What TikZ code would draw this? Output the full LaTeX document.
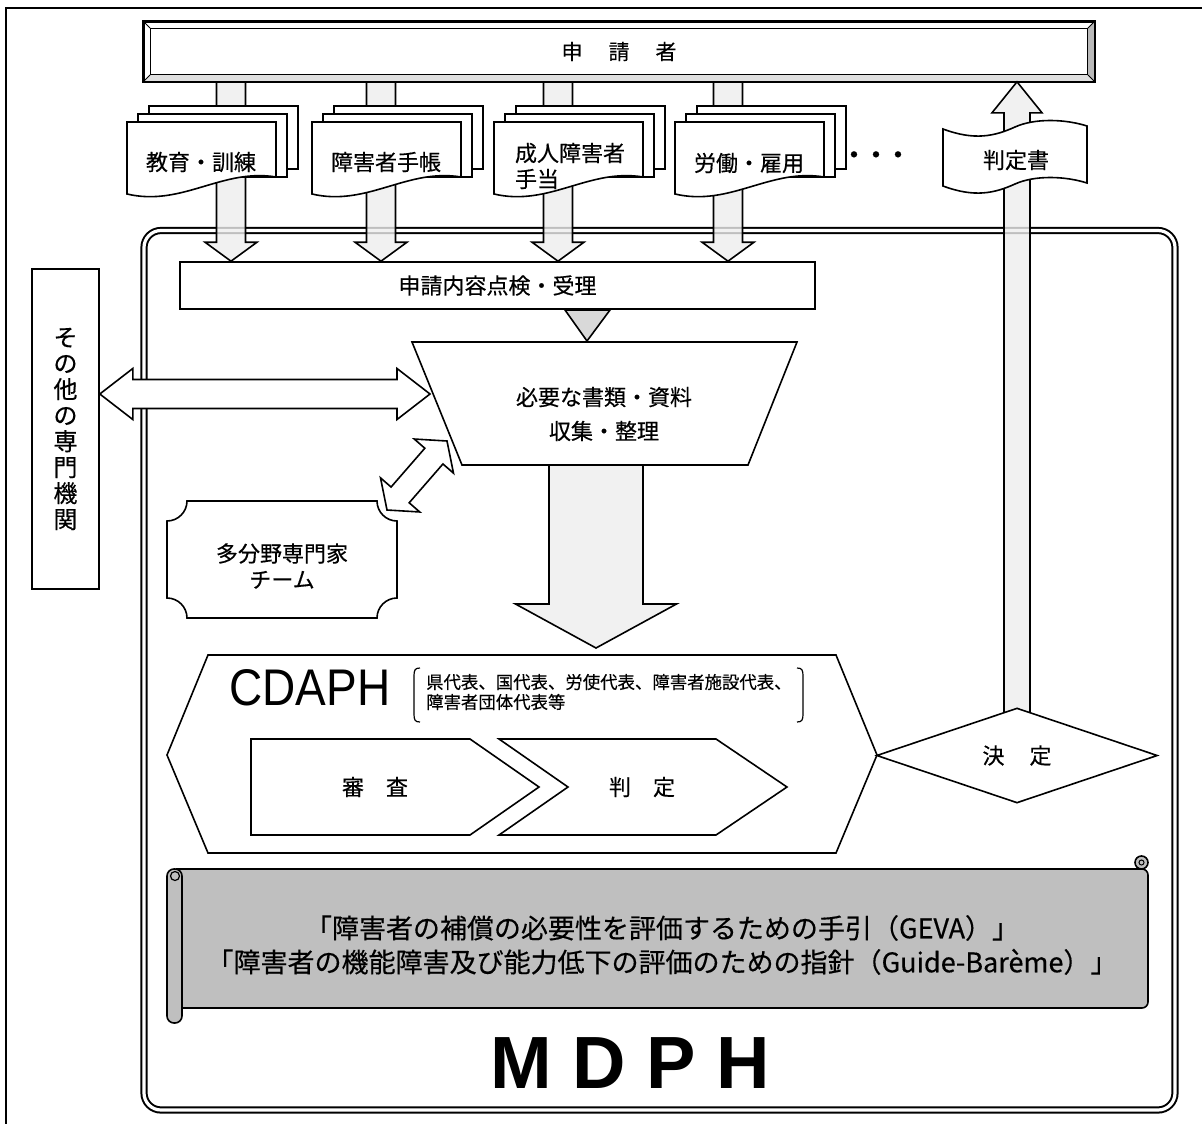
\documentclass[tikz,border=0pt]{standalone}
\usepackage{fontspec}
\setmainfont{Liberation Sans}
\newfontfamily\jp[FakeBold=0.4]{Noto Sans CJK JP}
\usetikzlibrary{calc}
\usetikzlibrary{shapes.geometric}

\tikzset{
  outline/.style={draw=black, line width=1.6pt, line join=miter},
  fat/.style={draw=black, line width=1.6pt, fill=gray!13, fill opacity=0.8},
  jptext/.style={font=\jp\fontsize{22}{26}\selectfont, align=center, inner sep=0pt},
}

\newcommand{\fatarrow}[6][]{%
  \coordinate (fa-b) at ($(#3)!#6!(#2)$);
  \draw[fat,#1] ($(#2)!#4!90:(#3)$) -- ($(fa-b)!#4!90:(#3)$) -- ($(fa-b)!#5!90:(#3)$) -- (#3)
    -- ($(fa-b)!#5!-90:(#3)$) -- ($(fa-b)!#4!-90:(#3)$) -- ($(#2)!#4!-90:(#3)$) -- cycle;
}
\newcommand{\fatdarrow}[6][]{%
  \coordinate (fa-a) at ($(#2)!#6!(#3)$);
  \coordinate (fa-b) at ($(#3)!#6!(#2)$);
  \draw[fat,#1] (#2) -- ($(fa-a)!#5!90:(#3)$) -- ($(fa-a)!#4!90:(#3)$) -- ($(fa-b)!#4!90:(#3)$)
    -- ($(fa-b)!#5!90:(#3)$) -- (#3) -- ($(fa-b)!#5!-90:(#3)$) -- ($(fa-b)!#4!-90:(#3)$)
    -- ($(fa-a)!#4!-90:(#3)$) -- ($(fa-a)!#5!-90:(#3)$) -- cycle;
}
\newcommand{\docsheets}[1]{%
  \draw[outline, fill=white] (#1+22,106) rectangle (#1+171,169);
  \draw[outline, fill=white] (#1+11,114) rectangle (#1+160,177);
  \draw[outline, fill=white] (#1,122) -- (#1+149,122) -- (#1+149,177)
    .. controls (#1+95,168) and (#1+55,207) .. (#1,194) -- cycle;
}

\begin{document}
\begin{tikzpicture}[x=1pt,y=-1pt]
\useasboundingbox (0,0) rectangle (1202,1124);
\draw[line width=1.8pt] (6,1140) -- (6,8) -- (1220,8);
\draw[line width=2pt, double, double distance=3.2pt, rounded corners=17pt] (144,230.5) rectangle (1175,1110);

\node[draw, outline, fill=white, minimum width=635pt, minimum height=47pt, jptext] (check) at (497.5,285.5) {申請内容点検・受理};

\foreach \x [count=\i] in {231,381,558,728} {
  \coordinate (in\i) at (\x,81);
  \coordinate (out\i) at (in\i |- check.north);
  \fatarrow{in\i}{out\i}{14.5pt}{26pt}{19pt}
}
\foreach \x in {127,312,494,675} {\docsheets{\x}}

\node[jptext] (edu) at (201,162) {教育・訓練};
\node[jptext] (handbook) at (386,162) {障害者手帳};
\node[jptext, align=left] (allowance) at (570,166) {成人障害者\\手当};
\node[jptext] (labour) at (749,163) {労働・雇用};
\node[jptext, font=\jp\bfseries\fontsize{22}{26}\selectfont] (more) at (876,157) {・・・};

\node[draw, outline, fill=white, minimum width=950pt, minimum height=59pt, inner sep=0pt,
  font=\jp\fontsize{21}{24}\selectfont] (applicant) at (619,51.5) {申\hspace{26pt}請\hspace{26pt}者};
\fill[gray!25] (applicant.south west) -- (applicant.south east) -- ++(-7,-7) -- ($(applicant.south west)+(7,-7)$) -- cycle;
\fill[gray!55] (applicant.south east) -- (applicant.north east) -- ++(-7,7) -- ($(applicant.south east)+(-7,-7)$) -- cycle;
\draw[outline] (applicant.north west) rectangle (applicant.south east);
\draw[outline, line width=1.2pt] ($(applicant.north west)+(7,7)$) rectangle ($(applicant.south east)+(-7,-7)$);
\draw[line width=0.8pt] (applicant.north west) -- ++(7,7) (applicant.south west) -- ++(7,-7)
  (applicant.north east) -- ++(-7,7) (applicant.south east) -- ++(-7,-7);

\coordinate (ret-s) at (1017,716);
\coordinate (ret-e) at (applicant.south -| ret-s);
\fatarrow{ret-s}{ret-e}{13pt}{25pt}{31pt}
\draw[outline, fill=white] (943,129) .. controls (975,141) and (995,136) .. (1015,127)
  .. controls (1035,118) and (1065,119) .. (1087,126) -- (1087,183)
  .. controls (1065,176) and (1035,175) .. (1015,184)
  .. controls (995,193) and (975,198) .. (943,186) -- cycle;
\node[jptext] (verdict) at (1016,160) {判定書};

\node[draw, outline, minimum width=67pt, minimum height=320pt, inner sep=0pt,
  font=\jp\fontsize{24}{26}\selectfont, align=center] (other) at (65.5,429) {そ\\の\\他\\の\\専\\門\\機\\関};

\draw[outline, fill=gray!30] (565,310) -- (610,310) -- (587,341) -- cycle;
\draw[outline, fill=white] (412,342) -- (797,342) -- (748,465) -- (462,465) -- cycle;
\node[jptext, font=\jp\fontsize{22}{34}\selectfont] (collect) at (604,414) {必要な書類・資料\\収集・整理};

\coordinate (link-l) at (other.east |- 0,394);
\coordinate (link-r) at (430,394);
\fatdarrow[fill=white, fill opacity=1]{link-l}{link-r}{14.5pt}{25.5pt}{33pt}

\draw[outline, fill=white] (187,501) -- (377,501) .. controls (377,512) and (386,521) .. (397,521)
  -- (397,598) .. controls (386,598) and (377,607) .. (377,618) -- (187,618)
  .. controls (187,607) and (178,598) .. (167,598) -- (167,521)
  .. controls (178,521) and (187,512) .. (187,501) -- cycle;
\node[jptext] (team) at (282,566) {多分野専門家\\チーム};
\coordinate (team-c) at (387,510);
\coordinate (collect-c) at (447,441);
\fatdarrow[fill=white, fill opacity=1]{team-c}{collect-c}{12pt}{26pt}{20pt}

\coordinate (big-s) at (596,465);
\coordinate (big-e) at (596,648);
\fatarrow{big-s}{big-e}{47pt}{80.5pt}{44pt}

\draw[outline, fill=white] (208,655) -- (836,655) -- (877,755) -- (836,853) -- (208,853) -- (167,755) -- cycle;
\node[inner sep=0pt, font=\fontsize{46}{46}\selectfont] (cdaph) at (310,688) {\scalebox{1}[1.12]{CDAPH}};
\draw[line width=1.2pt] (420,668) .. controls (415,668) and (414,670) .. (414,676) -- (414,714)
  .. controls (414,720) and (415,722) .. (420,722);
\draw[line width=1.2pt] (797,668) .. controls (802,668) and (803,670) .. (803,676) -- (803,714)
  .. controls (803,720) and (802,722) .. (797,722);
\node[jptext, align=left, anchor=west, font=\jp\fontsize{17.4}{20}\selectfont] (members) at (426,692)
  {県代表、国代表、労使代表、障害者施設代表、\\障害者団体代表等};

\draw[outline, fill=white] (251,739) -- (470,739) -- (539,787) -- (470,835) -- (251,835) -- cycle;
\draw[outline, fill=white] (499,739) -- (716,739) -- (787,787) -- (716,835) -- (499,835) -- (568,787) -- cycle;
\node[jptext] (review) at (375,787) {審\hspace{22pt}査};
\node[jptext] (judge) at (642,787) {判\hspace{22pt}定};

\node[diamond, draw, outline, fill=white, minimum width=281pt, minimum height=95pt, jptext] (decide) at (1017,755.5) {決\hspace{25pt}定};

\draw[outline, fill=gray!50, rounded corners=6pt] (176,869) -- (1148,869) -- (1148,1008) -- (182,1008);
\draw[outline, fill=gray!50] (1141.5,862.5) circle[radius=6.5];
\draw[line width=1pt] (1141.5,862.5) circle[radius=2.5];
\draw[outline, fill=gray!50, rounded corners=7pt] (167,869) rectangle (182,1023);
\draw[line width=1.2pt] (175,876) circle[radius=4.5];
\node[jptext, font=\jp\fontsize{27}{34}\selectfont] (guide) at (662,945)
  {「障害者の補償の必要性を評価するための手引（GEVA）」\\「障害者の機能障害及び能力低下の評価のための指針（Guide-Barème）」};

\node[inner sep=0pt, font=\bfseries\fontsize{74}{74}\selectfont] (mdph) at (630,1063) {M D P H};
\end{tikzpicture}
\end{document}
